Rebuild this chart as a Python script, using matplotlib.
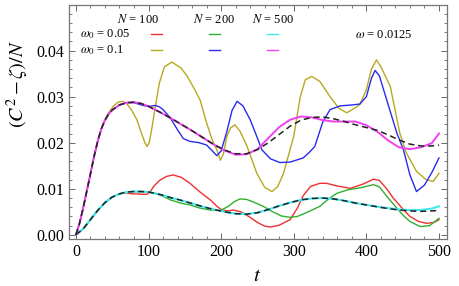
import numpy as np
import matplotlib
matplotlib.use("agg")
import matplotlib.pyplot as plt
from matplotlib.ticker import MultipleLocator

plt.rcParams['font.family'] = ['Liberation Serif', 'DejaVu Serif']
plt.rcParams['mathtext.fontset'] = 'stix'

# omega0 = 0.1 reference (dashed) and N=500
t_hi = [0, 5, 10, 15, 20, 25, 30, 35, 40, 45, 50, 60, 70, 80, 90, 100, 115, 130, 145, 160,
        175, 190, 205, 220, 235, 250, 265, 280, 295, 310, 325, 340, 355, 370, 385, 400,
        415, 430, 445, 460, 475, 490, 500]
ref_hi = [0, 0.0025, 0.0058, 0.0095, 0.0132, 0.0170, 0.0203, 0.0230, 0.0249, 0.0262, 0.0271,
          0.0282, 0.0287, 0.0288, 0.0285, 0.0279, 0.0267, 0.0254, 0.0240, 0.0226, 0.0211,
          0.0196, 0.0184, 0.0176, 0.0176, 0.0185, 0.0200, 0.0218, 0.0236, 0.0249, 0.0255,
          0.0256, 0.0252, 0.0246, 0.0239, 0.0233, 0.0227, 0.0217, 0.0206, 0.0197, 0.0193,
          0.0193, 0.0195]
mag = [0, 0.0025, 0.0058, 0.0095, 0.0132, 0.0170, 0.0203, 0.0230, 0.0249, 0.0262, 0.0271,
       0.0282, 0.0287, 0.0288, 0.0285, 0.0279, 0.0267, 0.0254, 0.0240, 0.0226, 0.0211,
       0.0196, 0.0183, 0.0174, 0.0175, 0.0186, 0.0210, 0.0234, 0.0250, 0.0257, 0.0255,
       0.0249, 0.0246, 0.0246, 0.0246, 0.0238, 0.0224, 0.0205, 0.0190, 0.0186, 0.0190,
       0.0199, 0.0220]

# omega0 = 0.1, N = 200
t_blue = [0, 5, 10, 15, 20, 25, 30, 35, 40, 45, 50, 60, 70, 80, 88, 95, 102, 109, 115, 120,
          130, 140, 148, 157, 170, 180, 188, 194, 200, 208, 215, 222, 230, 240, 249, 256,
          268, 281, 295, 313, 322, 329, 340, 350, 364, 380, 391, 400, 407, 412, 418, 428,
          442, 451, 460, 469, 480, 490, 500]
blue = [0, 0.0025, 0.0058, 0.0095, 0.0132, 0.0170, 0.0203, 0.0230, 0.0249, 0.0262, 0.0271,
        0.0282, 0.0287, 0.0287, 0.0283, 0.0280, 0.0279, 0.0281, 0.0278, 0.0272, 0.0254,
        0.0228, 0.0209, 0.0203, 0.0200, 0.0195, 0.0182, 0.0172, 0.0182, 0.0225, 0.0270,
        0.0290, 0.0280, 0.0250, 0.0214, 0.0185, 0.0165, 0.0157, 0.0158, 0.0167, 0.0180,
        0.0192, 0.0245, 0.0272, 0.0280, 0.0282, 0.0284, 0.0300, 0.0340, 0.0357, 0.0345,
        0.0293, 0.0221, 0.0185, 0.0130, 0.0094, 0.0108, 0.0135, 0.0167]

# omega0 = 0.1, N = 100
t_olive = [0, 5, 10, 15, 20, 25, 30, 35, 40, 45, 52, 58, 64, 70, 77, 84, 90, 95, 98, 101, 105,
           109, 115, 122, 132, 145, 153, 162, 171, 180, 188, 194, 199, 203, 208, 213, 219,
           226, 235, 242, 249, 260, 270, 278, 286, 300, 309, 316, 325, 336, 350, 362, 373,
           385, 391, 400, 407, 414, 420, 433, 446, 455, 469, 482, 492, 500]
olive = [0, 0.0025, 0.0058, 0.0095, 0.0132, 0.0170, 0.0203, 0.0230, 0.0249, 0.0265, 0.0280,
         0.0288, 0.0290, 0.0285, 0.0270, 0.0250, 0.0222, 0.0200, 0.0192, 0.0200, 0.0235,
         0.0275, 0.0330, 0.0365, 0.0375, 0.0362, 0.0345, 0.0320, 0.0293, 0.0243, 0.0205,
         0.0185, 0.0162, 0.0175, 0.0214, 0.0232, 0.0239, 0.0225, 0.0195, 0.0165, 0.0134,
         0.0103, 0.0094, 0.0105, 0.0134, 0.0214, 0.0300, 0.0337, 0.0344, 0.0333, 0.0300,
         0.0275, 0.0265, 0.0276, 0.0283, 0.0315, 0.0360, 0.0380, 0.0365, 0.0322, 0.0221,
         0.0178, 0.0138, 0.0120, 0.0116, 0.0134]

# omega0 = 0.05 reference (dashed) and N=500
t_lo = [0, 10, 20, 30, 40, 50, 60, 70, 80, 90, 100, 115, 130, 145, 160, 175, 190, 205, 220,
        235, 250, 265, 280, 295, 310, 325, 340, 355, 370, 385, 400, 415, 430, 445, 460, 475,
        490, 500]
ref_lo = [0, 0.0013, 0.0033, 0.0053, 0.0070, 0.0082, 0.0089, 0.0093, 0.0094, 0.0094, 0.0093,
          0.0088, 0.0081, 0.0075, 0.0068, 0.0061, 0.0055, 0.0050, 0.0046, 0.0045, 0.0048,
          0.0055, 0.0063, 0.0070, 0.0076, 0.0079, 0.0080, 0.0078, 0.0074, 0.0069, 0.0065,
          0.0061, 0.0057, 0.0054, 0.0052, 0.0051, 0.0052, 0.0053]
cyan = [0, 0.0013, 0.0033, 0.0053, 0.0070, 0.0082, 0.0089, 0.0093, 0.0094, 0.0094, 0.0093,
        0.0088, 0.0081, 0.0075, 0.0068, 0.0061, 0.0055, 0.0050, 0.0046, 0.0045, 0.0048,
        0.0055, 0.0063, 0.0070, 0.0076, 0.0079, 0.0080, 0.0078, 0.0074, 0.0069, 0.0065,
        0.0061, 0.0058, 0.0055, 0.0054, 0.0054, 0.0057, 0.0062]

# omega0 = 0.05, N = 200
t_green = [0, 10, 20, 30, 40, 50, 60, 70, 80, 90, 100, 110, 120, 130, 144, 157, 171, 185, 199,
           210, 218, 226, 235, 245, 258, 270, 283, 295, 305, 320, 336, 348, 359, 375, 391,
           402, 410, 418, 430, 442, 451, 460, 474, 487, 500]
green = [0, 0.0013, 0.0033, 0.0053, 0.0070, 0.0082, 0.0089, 0.0093, 0.0094, 0.0094, 0.0093,
         0.0090, 0.0084, 0.0076, 0.0069, 0.0065, 0.0058, 0.0054, 0.0053, 0.0062, 0.0072,
         0.0078, 0.0077, 0.0071, 0.0062, 0.0051, 0.0041, 0.0038, 0.0040, 0.0050, 0.0062,
         0.0078, 0.0090, 0.0098, 0.0102, 0.0106, 0.0109, 0.0104, 0.0080, 0.0058, 0.0042,
         0.0029, 0.0018, 0.0020, 0.0036]

# omega0 = 0.05, N = 100
t_red = [0, 10, 20, 30, 40, 50, 60, 65, 70, 77, 84, 92, 98, 103, 107, 115, 125, 134, 145, 157,
         171, 185, 195, 201, 210, 217, 227, 238, 250, 260, 268, 280, 295, 305, 313, 323, 336,
         345, 360, 378, 395, 410, 418, 428, 437, 448, 460, 472, 483, 493, 500]
red = [0, 0.0013, 0.0033, 0.0053, 0.0070, 0.0082, 0.0089, 0.0091, 0.0091, 0.0089, 0.0089,
       0.0088, 0.0088, 0.0095, 0.0105, 0.0118, 0.0127, 0.0130, 0.0125, 0.0112, 0.0093,
       0.0076, 0.0061, 0.0054, 0.0052, 0.0054, 0.0050, 0.0040, 0.0027, 0.0019, 0.0017,
       0.0021, 0.0033, 0.0058, 0.0085, 0.0105, 0.0112, 0.0112, 0.0106, 0.0101, 0.0110,
       0.0121, 0.0118, 0.0100, 0.0080, 0.0060, 0.0040, 0.0029, 0.0025, 0.0027, 0.0033]

c_red, c_green, c_cyan = "#f03030", "#30b030", "#40e8f0"
c_olive, c_blue, c_mag = "#b8a820", "#2a2af0", "#f040f0"

fig = plt.figure(figsize=(4.59, 2.86), dpi=100)
ax = fig.add_axes([0.1503, 0.1643, 0.8235, 0.8182])

lw = 1.0
ax.plot(t_red, red, color=c_red, lw=lw)
ax.plot(t_green, green, color=c_green, lw=lw)
ax.plot(t_lo, cyan, color=c_cyan, lw=1.5)
ax.plot(t_lo, ref_lo, color="#222222", lw=1.1, ls=(0, (4, 2.5)))
ax.plot(t_olive, olive, color=c_olive, lw=lw)
ax.plot(t_blue, blue, color=c_blue, lw=lw)
ax.plot(t_hi, mag, color=c_mag, lw=1.4)
ax.plot(t_hi, ref_hi, color="#222222", lw=1.1, ls=(0, (4, 2.5)))

ax.set_xlim(-9.5, 511)
ax.set_ylim(-0.0009, 0.0499)
ax.xaxis.set_major_locator(MultipleLocator(100))
ax.xaxis.set_minor_locator(MultipleLocator(20))
ax.yaxis.set_major_locator(MultipleLocator(0.01))
ax.yaxis.set_minor_locator(MultipleLocator(0.002))
ax.yaxis.set_major_formatter(matplotlib.ticker.FormatStrFormatter('%.2f'))
ax.tick_params(which='both', direction='in', top=True, right=True, colors='#666666',
               labelcolor='black', labelsize=11.5)
ax.tick_params(which='major', length=4, width=0.7)
ax.tick_params(which='minor', length=2, width=0.6)
for s in ax.spines.values():
    s.set_color('#777777')
    s.set_linewidth(0.9)

ax.set_ylabel(r'$(C^2-\zeta)/N$', fontsize=14.5)
ax.yaxis.set_label_coords(-0.1, 0.66)
ax.set_xlabel(r'$t$', fontsize=15)
ax.xaxis.set_label_coords(0.497, -0.12)

# legend block
def fx(px):
    return (px - 69) / 378.0

def fy(py):
    return (239 - py) / 234.0

fs = 9
for lab, px in [("100", 138), ("200", 214), ("500", 273)]:
    ax.text(fx(px), fy(19), r'$N$ = ' + lab, transform=ax.transAxes, fontsize=fs,
            ha='center', va='center')
ax.text(fx(80), fy(34), r'$\omega_0$ = 0.05', transform=ax.transAxes, fontsize=fs,
        ha='left', va='center')
ax.text(fx(80), fy(50.5), r'$\omega_0$ = 0.1', transform=ax.transAxes, fontsize=fs,
        ha='left', va='center')
ax.text(fx(355), fy(35), r'$\omega$ = 0.0125', transform=ax.transAxes, fontsize=fs,
        ha='left', va='center')
for col, x0, y0 in [(c_red, 151, 34.3), (c_green, 209, 34.3), (c_cyan, 267, 34.3),
                    (c_olive, 151, 50.3), (c_blue, 209, 50.3), (c_mag, 267, 50.3)]:
    ax.plot([fx(x0), fx(x0 + 11)], [fy(y0), fy(y0)], color=col, lw=1.0,
            transform=ax.transAxes)

fig.savefig("out.png", dpi=100)
